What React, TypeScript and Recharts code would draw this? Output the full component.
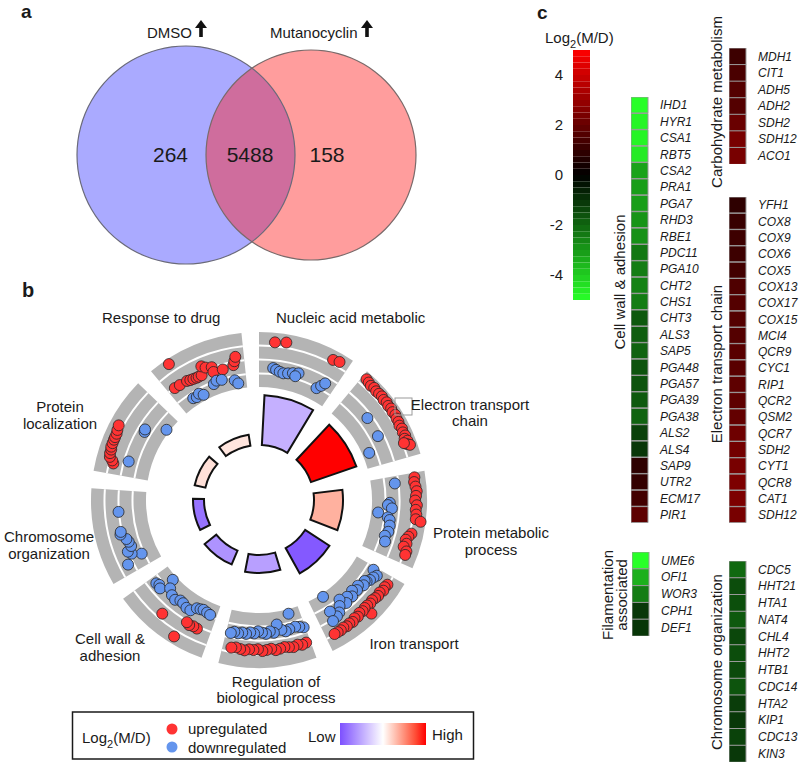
import React from 'react';
import {
  PieChart, Pie, Cell, ScatterChart, Scatter, XAxis, YAxis,
  RadialBarChart, RadialBar, PolarAngleAxis, PolarRadiusAxis, BarChart, Bar,
} from 'recharts';

const FONT = '"Liberation Sans", Arial, Helvetica, sans-serif';

// ---------------- Panel a: Venn ----------------
const vennSets = ['DMSO', 'Mutanocyclin'];
const vennOnlyDMSO = 264;
const vennShared = 5488;
const vennOnlyMut = 158;

// ---------------- Panel b: GO circle ----------------
const goTerms = [
  'Nucleic acid metabolic', 'Electron transport chain', 'Protein metabolic process',
  'Iron transport', 'Regulation of biological process', 'Cell wall & adhesion',
  'Chromosome organization', 'Protein localization', 'Response to drug',
];
const goCounts = [50, 48, 29, 29, 18, 15, 11, 11, 11];
const goZScores = [-0.45, 1.0, 0.35, -0.95, -0.55, -0.62, -0.8, 0.14, 0.12];

// genes per term: [position along term (0..1), log2(M/D)]
const goUp: number[][][] = [
  [[0.17, 3.9], [0.29, 4.2], [0.82, 3.9], [0.89, 4.2]],
  [[0.05, 4.6], [0.09, 4.4], [0.13, 4.2], [0.17, 4.4], [0.21, 4.2], [0.25, 4.3], [0.29, 4.4], [0.33, 4.2], [0.37, 4.4], [0.41, 4.2], [0.45, 4.4], [0.49, 4.2], [0.53, 4.4], [0.57, 4.2], [0.61, 4.2], [0.65, 4.0], [0.69, 4.2], [0.73, 4.0], [0.77, 4.2], [0.8, 3.8], [0.83, 4.2], [0.86, 3.8], [0.88, 4.4], [0.84, 3.3]],
  [[0.05, 3.6], [0.1, 3.4], [0.15, 3.6], [0.2, 3.8], [0.25, 3.6], [0.3, 3.4], [0.35, 3.8], [0.4, 3.6], [0.45, 3.8], [0.5, 3.8], [0.52, 4.9], [0.66, 3.4], [0.7, 2.9], [0.74, 2.5], [0.78, 2.9], [0.82, 2.5], [0.86, 3.4], [0.9, 3.4]],
  [[0.1, 2.9], [0.14, 2.7], [0.18, 2.9], [0.22, 2.5], [0.26, 2.7], [0.3, 2.5], [0.34, 2.3], [0.38, 2.5], [0.42, 2.3], [0.45, 4.2], [0.46, 2.3], [0.5, 2.5], [0.54, 2.3], [0.58, 2.7], [0.62, 2.5], [0.66, 2.9], [0.7, 2.7], [0.74, 2.9], [0.78, 2.7], [0.82, 2.9], [0.86, 2.9], [0.9, 2.9]],
  [[0.05, 2.1], [0.1, 2.3], [0.15, 2.0], [0.2, 2.3], [0.25, 2.1], [0.3, 1.9], [0.35, 2.1], [0.4, 2.3], [0.45, 1.9], [0.5, 2.1], [0.55, 2.3], [0.6, 1.9], [0.65, 2.1], [0.7, 2.0], [0.75, 2.3], [0.8, 2.1], [0.85, 1.9], [0.9, 2.1]],
  [[0.17, 0.5], [0.22, 0.4], [0.27, 0.6], [0.31, 0.3], [0.35, 4.4], [0.6, 1.9]],
  [],
  [[0.12, 2.1], [0.15, 2.5], [0.18, 3.2], [0.22, 3.4], [0.26, 3.4], [0.29, 3.6], [0.33, 3.6], [0.37, 3.6], [0.4, 3.6], [0.44, 3.6], [0.48, 3.8], [0.53, 4.0]],
  [[0.09, -0.1], [0.16, -0.2], [0.19, 4.9], [0.26, -0.3], [0.3, -0.5], [0.34, -0.6], [0.38, -0.7], [0.41, -0.7], [0.45, -0.7], [0.49, 1.1], [0.53, 0.5], [0.6, 0.1], [0.6, -1.0], [0.72, -1.1], [0.86, -0.7], [0.88, 0.1], [0.9, 1.0]],
];
const goDown: number[][][] = [
  [[0.18, -1.7], [0.22, -2.0], [0.27, -2.3], [0.32, -2.5], [0.38, -2.3], [0.44, -2.0], [0.51, -1.7], [0.48, -2.5], [0.8, -3.2], [0.84, -2.3], [0.87, -1.4]],
  [[0.38, -1.0], [0.64, -1.2], [0.79, -4.5]],
  [[0.09, -0.8], [0.33, -2.1], [0.36, -2.5], [0.4, -1.6], [0.47, -4.5], [0.52, -2.3], [0.55, -1.8], [0.62, -1.6], [0.7, -1.6], [0.76, -2.1], [0.83, -1.7]],
  [[0.04, -1.4], [0.08, -0.1], [0.12, -0.5], [0.17, -0.8], [0.21, -1.2], [0.22, -1.6], [0.27, -1.2], [0.32, -2.1], [0.37, -1.6], [0.42, -2.3], [0.47, -1.4], [0.52, -2.1], [0.58, -1.2], [0.62, -2.7], [0.67, -1.6], [0.72, -0.5], [0.77, -0.1], [0.81, -1.8], [0.84, 0.3], [0.78, -5.3]],
  [[0.02, -1.2], [0.07, -1.6], [0.12, -1.9], [0.16, -5.0], [0.2, -1.7], [0.25, -1.4], [0.3, -1.9], [0.35, -3.2], [0.4, -1.5], [0.45, -1.9], [0.5, -1.4], [0.55, -1.7], [0.6, -2.0], [0.65, -1.5], [0.7, -1.7], [0.75, -1.3], [0.8, -1.5], [0.85, -1.2], [0.9, -1.4], [0.94, -1.0]],
  [[0.91, -1.8], [0.87, -2.1], [0.83, -1.7], [0.8, -5.0], [0.74, -3.3], [0.66, -2.5], [0.59, -2.2], [0.53, -2.8], [0.48, -2.7], [0.41, -2.3], [0.35, -2.3], [0.29, -3.4], [0.24, -3.6], [0.2, -3.8], [0.14, -3.6], [0.09, -3.4]],
  [[0.11, 1.2], [0.16, -2.5], [0.21, -0.5], [0.25, 0.1], [0.3, -1.0], [0.36, -0.8], [0.4, -0.5], [0.47, 0.5], [0.5, 0.3], [0.74, 0.1]],
  [[0.19, -1.0], [0.61, -1.6], [0.64, -1.4], [0.8, -5.3]],
  [[0.21, -4.2], [0.26, -4.4], [0.31, -4.0], [0.36, -4.7], [0.55, -3.5], [0.6, -3.0], [0.67, -3.2], [0.84, -4.0], [0.88, -4.8]],
];

// ---------------- Panel c: heatmaps ----------------
const colorbarTicks = [-4, -2, 0, 2, 4];
const cellWallGenes = ['IHD1', 'HYR1', 'CSA1', 'RBT5', 'CSA2', 'PRA1', 'PGA7', 'RHD3', 'RBE1', 'PDC11', 'PGA10', 'CHT2', 'CHS1', 'CHT3', 'ALS3', 'SAP5', 'PGA48', 'PGA57', 'PGA39', 'PGA38', 'ALS2', 'ALS4', 'SAP9', 'UTR2', 'ECM17', 'PIR1'];
const cellWallLog2 = [-5.0, -4.8, -4.8, -4.6, -3.2, -3.1, -3.1, -2.9, -2.85, -2.35, -2.45, -2.55, -2.45, -1.75, -1.85, -1.95, -1.65, -1.65, -1.75, -1.95, -1.27, -1.08, 0.9, 1.0, 1.3, 1.85];
const carbGenes = ['MDH1', 'CIT1', 'ADH5', 'ADH2', 'SDH2', 'SDH12', 'ACO1'];
const carbLog2 = [1.2, 1.45, 1.65, 1.65, 2.05, 2.35, 2.35];
const etcGenes = ['YFH1', 'COX8', 'COX9', 'COX6', 'COX5', 'COX13', 'COX17', 'COX15', 'MCI4', 'QCR9', 'CYC1', 'RIP1', 'QCR2', 'QSM2', 'QCR7', 'SDH2', 'CYT1', 'QCR8', 'CAT1', 'SDH12'];
const etcLog2 = [0.9, 1.1, 1.2, 1.2, 1.3, 1.55, 1.65, 1.65, 1.65, 1.75, 1.75, 1.85, 1.85, 1.95, 2.15, 2.25, 2.35, 2.45, 2.45, 2.35];
const filGenes = ['UME6', 'OFI1', 'WOR3', 'CPH1', 'DEF1'];
const filLog2 = [-5.0, -3.45, -2.45, -1.1, -1.05];
const chromGenes = ['CDC5', 'HHT21', 'HTA1', 'NAT4', 'CHL4', 'HHT2', 'HTB1', 'CDC14', 'HTA2', 'KIP1', 'CDC13', 'KIN3'];
const chromLog2 = [-2.05, -1.5, -1.55, -1.75, -1.4, -1.5, -1.45, -1.65, -1.2, -1.1, -1.3, -1.1];

// ---------------- helpers ----------------
function heatColor(v: number) {
  const t = Math.min(Math.abs(v) / 5, 1);
  if (v >= 0) return `rgb(${Math.round(255 * t)},0,0)`;
  return `rgb(${Math.round(40 * t)},${Math.round(255 * t)},${Math.round(40 * t)})`;
}
function zColor(z: number) {
  const t = Math.min(Math.abs(z), 1);
  if (z < 0) return `rgb(${Math.round(255 - 130 * t)},${Math.round(255 - 175 * t)},255)`;
  return `rgb(255,${Math.round(255 * Math.pow(1 - t, 0.85))},${Math.round(255 * Math.pow(1 - t, 1.1))})`;
}

const SECTOR_DEG = 34;
const SLOT_DEG = 40;
const TRACK_MID = 140.5;
const TRACK_PER_UNIT = 4.6;
function toXY(term: number, t: number, v: number) {
  const deg = 90 - SLOT_DEG * term - SECTOR_DEG * t;
  const r = TRACK_MID + v * TRACK_PER_UNIT;
  const a = (deg * Math.PI) / 180;
  return { x: r * Math.cos(a), y: r * Math.sin(a), fc: v };
}
const upPoints = goUp.flatMap((arr, i) => arr.map(([t, v]) => toXY(i, t, v)));
const downPoints = goDown.flatMap((arr, i) => arr.map(([t, v]) => toXY(i, t, v)));
const termRows = goTerms.map((name, i) => ({ name, count: goCounts[i], z: goZScores[i], slot: 1 }));

const T = ({ x, y, children, size = 15, anchor = 'start', weight = 400, rotate, italic }: any) => (
  <text
    x={x} y={y} fontSize={size} textAnchor={anchor} fontWeight={weight} fontFamily={FONT}
    fill="#1a1a1a" fontStyle={italic ? 'italic' : 'normal'}
    transform={rotate ? `rotate(${rotate} ${x} ${y})` : undefined}
  >{children}</text>
);

const abs = (left: number, top: number): React.CSSProperties => ({ position: 'absolute', left, top });

function HeatColumn({ genes, values, left, top, height }: { genes: string[]; values: number[]; left: number; top: number; height: number }) {
  const data = genes.map((gene, i) => ({ gene, value: values[i], span: 1 }));
  return (
    <div style={abs(left, top)}>
      <BarChart layout="vertical" width={100} height={height} data={data}
        margin={{ top: 0, right: 0, bottom: 0, left: 0 }} barCategoryGap={0}>
        <XAxis type="number" hide domain={[0, 1]} />
        <YAxis type="category" dataKey="gene" orientation="right" width={83}
          axisLine={false} tickLine={false} tickSize={0} tickMargin={12} interval={0}
          tick={{ fontSize: 12, fontStyle: 'italic', fill: '#1a1a1a', fontFamily: FONT }} />
        <Bar dataKey="span" isAnimationActive={false} stroke="#9a9a9a" strokeWidth={1}>
          {data.map((d, i) => <Cell key={i} fill={heatColor(d.value)} />)}
        </Bar>
      </BarChart>
    </div>
  );
}

// colour bar (legend of heatmap)
const cbLows = Array.from({ length: 40 }, (_, i) => -5 + i * 0.25);
const cbRow: Record<string, any> = { name: 'scale' };
cbLows.forEach((lo, i) => { cbRow['s' + i] = lo >= 0 ? 0.25 : -0.25; });
const cbOrder = [...cbLows.map((_, i) => i).filter((i) => cbLows[i] >= 0), ...cbLows.map((_, i) => i).filter((i) => cbLows[i] < 0).reverse()];

const zStops = [-1, -0.75, -0.5, -0.25, -0.1, 0, 0.1, 0.25, 0.5, 0.75, 1];

const Arrow = ({ x, y }: { x: number; y: number }) => (
  <path d={`M${x} ${y} L${x - 6} ${y + 8} L${x - 1.8} ${y + 8} L${x - 1.8} ${y + 17} L${x + 1.8} ${y + 17} L${x + 1.8} ${y + 8} L${x + 6} ${y + 8} Z`} fill="#111" />
);

export default function App() {
  return (
    <div style={{ position: 'absolute', left: 0, top: 0, width: 800, height: 768, background: '#fff', overflow: 'hidden' }}>
      {/* Panel a: Venn */}
      <div style={abs(0, 0)}>
        <PieChart width={420} height={280} margin={{ top: 0, right: 0, bottom: 0, left: 0 }}>
          <Pie data={[{ name: vennSets[0], value: vennOnlyDMSO + vennShared }]} dataKey="value" cx={186} cy={155}
            outerRadius={109} startAngle={90} endAngle={450} stroke="none" isAnimationActive={false} label={false}>
            <Cell fill="#aaaaff" />
          </Pie>
          <Pie data={[{ name: vennSets[1], value: vennOnlyMut + vennShared }]} dataKey="value" cx={311} cy={155}
            outerRadius={105} startAngle={90} endAngle={450} stroke="none" isAnimationActive={false} label={false}>
            <Cell fill="#ff2020" fillOpacity={0.44} />
          </Pie>
          <Pie data={[{ name: vennSets[0], value: 1 }]} dataKey="value" cx={186} cy={155} innerRadius={108.4}
            outerRadius={109.6} startAngle={90} endAngle={450} stroke="none" isAnimationActive={false}>
            <Cell fill="#6a6a7a" />
          </Pie>
          <Pie data={[{ name: vennSets[1], value: 1 }]} dataKey="value" cx={311} cy={155} innerRadius={104.4}
            outerRadius={105.6} startAngle={90} endAngle={450} stroke="none" isAnimationActive={false}>
            <Cell fill="#7a6a6a" />
          </Pie>
        </PieChart>
      </div>

      {/* Panel b: tracks */}
      <div style={abs(59, 300)}>
        <PieChart width={400} height={400} margin={{ top: 0, right: 0, bottom: 0, left: 0 }}>
          <Pie data={termRows} dataKey="slot" cx={200} cy={200} innerRadius={113} outerRadius={168}
            startAngle={90} endAngle={-270} paddingAngle={6} stroke="none" fill="#b4b4b4" isAnimationActive={false}>
            {termRows.map((_, i) => <Cell key={i} fill="#b4b4b4" />)}
          </Pie>
          {[126.5, 140.5, 154.5].map((r) => (
            <Pie key={r} data={termRows} dataKey="slot" cx={200} cy={200} innerRadius={r - 1} outerRadius={r + 1}
              startAngle={90} endAngle={-270} paddingAngle={6} stroke="none" fill="#ffffff" isAnimationActive={false}>
              {termRows.map((_, i) => <Cell key={i} fill="#ffffff" />)}
            </Pie>
          ))}
        </PieChart>
      </div>
      <div style={abs(59, 300)}>
        <ScatterChart width={400} height={400} margin={{ top: 0, right: 0, bottom: 0, left: 0 }}>
          <XAxis type="number" dataKey="x" domain={[-200, 200]} hide />
          <YAxis type="number" dataKey="y" domain={[-200, 200]} hide />
          <Scatter data={upPoints} isAnimationActive={false}
            shape={(p: any) => <circle cx={p.cx} cy={p.cy} r={5.5} fill="#ff3333" stroke="#262626" strokeWidth={0.8} />} />
          <Scatter data={downPoints} isAnimationActive={false}
            shape={(p: any) => <circle cx={p.cx} cy={p.cy} r={5.5} fill="#6495ed" stroke="#262626" strokeWidth={0.8} />} />
        </ScatterChart>
      </div>
      <div style={abs(59, 300)}>
        <RadialBarChart width={400} height={400} cx={200} cy={200} innerRadius={55} outerRadius={115}
          startAngle={53} endAngle={-307} layout="centric" data={termRows} barCategoryGap="15%"
          margin={{ top: 0, right: 0, bottom: 0, left: 0 }}>
          <PolarAngleAxis type="category" dataKey="name" tick={false} axisLine={false} tickLine={false} />
          <PolarRadiusAxis type="number" domain={[0, 60]} tick={false} axisLine={false} tickLine={false} />
          <RadialBar dataKey="count" isAnimationActive={false} stroke="#111" strokeWidth={2}>
            {termRows.map((d, i) => <Cell key={i} fill={zColor(d.z)} />)}
          </RadialBar>
        </RadialBarChart>
      </div>

      {/* Panel c: colour bar */}
      <div style={abs(543, 45)}>
        <BarChart width={47} height={260} data={[cbRow]} stackOffset="sign" barCategoryGap={0}
          margin={{ top: 5, right: 0, bottom: 5, left: 0 }}>
          <XAxis dataKey="name" hide />
          <YAxis type="number" domain={[-5, 5]} ticks={colorbarTicks} width={30} axisLine={false}
            tickLine={false} tickSize={0} tickMargin={10} interval={0}
            tick={{ fontSize: 15, fill: '#1a1a1a', fontFamily: FONT }} />
          {cbOrder.map((i) => (
            <Bar key={i} dataKey={'s' + i} stackId="cb" fill={heatColor(cbLows[i] + 0.125)} isAnimationActive={false} />
          ))}
        </BarChart>
      </div>

      <HeatColumn genes={cellWallGenes} values={cellWallLog2} left={631} top={97} height={426} />
      <HeatColumn genes={carbGenes} values={carbLog2} left={729} top={48} height={116} />
      <HeatColumn genes={etcGenes} values={etcLog2} left={729} top={197} height={326} />
      <HeatColumn genes={filGenes} values={filLog2} left={632} top={552} height={84} />
      <HeatColumn genes={chromGenes} values={chromLog2} left={729} top={561} height={201} />

      {/* Text overlay */}
      <svg width={800} height={768} style={{ position: 'absolute', left: 0, top: 0, pointerEvents: 'none' }}>
        <defs>
          <linearGradient id="zgrad" x1="0" x2="1" y1="0" y2="0">
            {zStops.map((z) => (
              <stop key={z} offset={`${((z + 1) / 2) * 100}%`} stopColor={zColor(z)} />
            ))}
          </linearGradient>
        </defs>
        {/* panel a */}
        <T x={21} y={17.5} size={19} weight={700}>a</T>
        <T x={147} y={37.5}>{vennSets[0]}</T>
        <Arrow x={201} y={20} />
        <T x={270} y={37.5}>{vennSets[1]}</T>
        <Arrow x={367} y={20} />
        <T x={170.5} y={162} size={21} anchor="middle">{vennOnlyDMSO}</T>
        <T x={250} y={162} size={21} anchor="middle">{vennShared}</T>
        <T x={327} y={162} size={21} anchor="middle">{vennOnlyMut}</T>

        {/* panel b */}
        <T x={22} y={297} size={20} weight={700}>b</T>
        <T x={102} y={322.5}>Response to drug</T>
        <T x={276} y={322.5}>Nucleic acid metabolic</T>
        <rect x={395} y={398} width={17} height={17} fill="none" stroke="#9a9a9a" strokeWidth={1} />
        <T x={470} y={410} anchor="middle">Electron transport</T>
        <T x={470} y={426} anchor="middle">chain</T>
        <T x={491} y={538} anchor="middle">Protein metabolic</T>
        <T x={491} y={555} anchor="middle">process</T>
        <T x={414} y={649} anchor="middle">Iron transport</T>
        <T x={276} y={687} anchor="middle">Regulation of</T>
        <T x={276} y={703} anchor="middle">biological process</T>
        <T x={110} y={644} anchor="middle">Cell wall &amp;</T>
        <T x={110} y={661} anchor="middle">adhesion</T>
        <T x={49} y={542} anchor="middle">Chromosome</T>
        <T x={49} y={559} anchor="middle">organization</T>
        <T x={60} y={412} anchor="middle">Protein</T>
        <T x={60} y={429} anchor="middle">localization</T>

        {/* legend of panel b */}
        <rect x={72.5} y={712} width={401} height={47} fill="none" stroke="#1a1a1a" strokeWidth={1.5} />
        <text x={82} y={743} fontSize={15} fontFamily={FONT} fill="#1a1a1a">
          Log<tspan dy={5} fontSize={11}>2</tspan><tspan dy={-5}>(M/D)</tspan>
        </text>
        <circle cx={172} cy={729} r={5.5} fill="#ff3333" />
        <circle cx={172} cy={747} r={5.5} fill="#6495ed" />
        <T x={188} y={733.5}>upregulated</T>
        <T x={188} y={752.5}>downregulated</T>
        <T x={308} y={742}>Low</T>
        <rect x={340} y={723} width={86} height={22} fill="url(#zgrad)" />
        <T x={432} y={740}>High</T>

        {/* panel c */}
        <T x={537} y={18.5} size={19} weight={700}>c</T>
        <text x={545} y={42.5} fontSize={15} fontFamily={FONT} fill="#1a1a1a">
          Log<tspan dy={5} fontSize={11}>2</tspan><tspan dy={-5}>(M/D)</tspan>
        </text>
        <T x={625} y={282} anchor="middle" rotate={-90}>Cell wall &amp; adhesion</T>
        <T x={722} y={102} anchor="middle" rotate={-90}>Carbohydrate metabolism</T>
        <T x={722} y={364} anchor="middle" rotate={-90}>Electron transport chain</T>
        <T x={613} y={595} anchor="middle" rotate={-90}>Filamentation</T>
        <T x={627} y={595} anchor="middle" rotate={-90}>associated</T>
        <T x={722} y={662} anchor="middle" rotate={-90}>Chromosome organization</T>
      </svg>
    </div>
  );
}
